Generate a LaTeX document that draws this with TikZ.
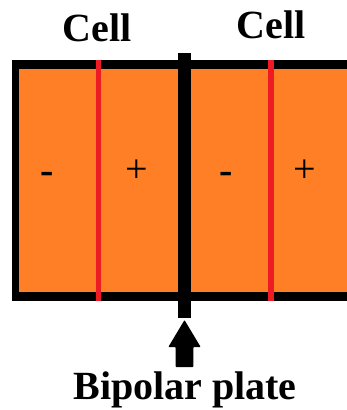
\documentclass[tikz,border=0pt]{standalone}
\usepackage{fontspec}
\setmainfont{Liberation Serif}
\definecolor{cellorange}{HTML}{FF7F27}
\definecolor{sepred}{HTML}{ED1C24}
\begin{document}
\begin{tikzpicture}[x=1pt,y=-1pt,
  lbl/.style={inner sep=0pt,anchor=base,font=\fontsize{40}{40}\selectfont\bfseries},
  sgn/.style={inner sep=0pt,anchor=base,font=\fontsize{40}{40}\selectfont},
  border/.style={fill=black},
  sep/.style={fill=sepred}]
\useasboundingbox (0,0) rectangle (347,410);
% cell body
\fill[cellorange] (12.3,60) rectangle (347,300.7);
% border (top, bottom, left)
\fill[border] (12.3,60) rectangle (347,68.6);
\fill[border] (12.3,292) rectangle (347,300.7);
\fill[border] (12.3,60) rectangle (19.3,300.7);
% separators
\fill[sep] (95.7,60) rectangle (101,300.7);
\fill[sep] (268.3,60) rectangle (273.8,300.7);
% bipolar plate
\node[fill=black,inner sep=0pt,minimum width=13pt,minimum height=265pt] (plate) at (184.5,185.5) {};
% labels
\node[lbl] (cell1) at (97,41.7) {Cell};
\node[lbl] (cell2) at (271,38.3) {Cell};
\node[lbl] (bp) at (185,399) {Bipolar plate};
% signs
\node[sgn,font=\fontsize{40}{40}\selectfont\bfseries] (m1) at (47.5,183.5) {-};
\node[sgn] (p1) at (137,182.7) {+};
\node[sgn,font=\fontsize{40}{40}\selectfont\bfseries] (m2) at (226.5,183.5) {-};
\node[sgn] (p2) at (305,182.7) {+};
% arrow from label to plate
\coordinate (tip) at (184.5,320);
\fill[black,rounded corners=0.8pt] (tip) -- (200.7,347) -- (193.3,347) -- (193.3,367) -- (175.7,367) -- (175.7,347) -- (168.3,347) -- cycle;
\end{tikzpicture}
\end{document}
